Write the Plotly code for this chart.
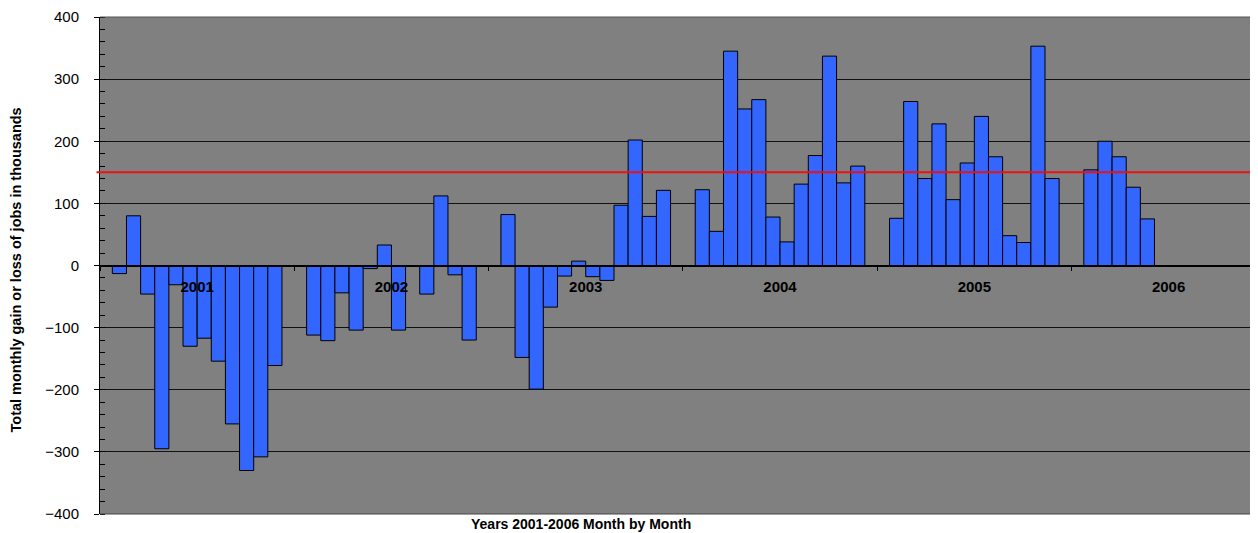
import plotly.graph_objects as go

years = ["2001", "2002", "2003", "2004", "2005", "2006"]
months = ["Jan", "Feb", "Mar", "Apr", "May", "Jun",
          "Jul", "Aug", "Sep", "Oct", "Nov", "Dec"]

jobs_2001 = [-13, 80, -46, -295, -31, -130, -117, -154, -255, -330, -308, -161]
jobs_2002 = [-112, -121, -44, -104, -5, 33, -104, None, -46, 112, -15, -120]
jobs_2003 = [82, -148, -199, -67, -17, 7, -18, -24, 97, 202, 79, 121]
jobs_2004 = [122, 55, 345, 252, 267, 78, 38, 131, 177, 337, 133, 160]
jobs_2005 = [76, 264, 140, 228, 106, 165, 240, 175, 48, 37, 353, 140]
jobs_2006 = [154, 200, 175, 126, 75, None, None, None, None, None, None, None]

target_level = 150

y_ticks = [-400, -300, -200, -100, 0, 100, 200, 300, 400]

by_year = [jobs_2001, jobs_2002, jobs_2003, jobs_2004, jobs_2005, jobs_2006]

fig = go.Figure()
for mi, m in enumerate(months):
    fig.add_trace(go.Bar(
        name=m,
        x=years,
        y=[yr[mi] for yr in by_year],
        marker=dict(color="#3366FF", line=dict(color="black", width=1)),
        showlegend=False,
    ))

fig.add_shape(type="line", xref="paper", yref="y", x0=-0.003, x1=1,
              y0=target_level, y1=target_level,
              line=dict(color="#EE1111", width=2), layer="above")

PLOT_W = 1158

fig.update_layout(
    width=1250, height=525,
    margin=dict(l=92, r=0, t=9, b=19),
    paper_bgcolor="white",
    plot_bgcolor="#808080",
    barmode="group",
    bargap=0.127,
    bargroupgap=0,
    font=dict(family="Liberation Sans, Arial", color="black"),
    xaxis=dict(
        type="category",
        range=[-0.5, 5.46],
        anchor="free", position=0.5,
        showgrid=False,
        showline=True, linecolor="black", linewidth=1,
        ticks="outside", tickson="boundaries", ticklen=4, tickcolor="black",
        ticklabelstandoff=7,
        tickfont=dict(size=15, family="Liberation Sans, Arial", weight="bold"),
    ),
    yaxis=dict(
        range=[-400, 400],
        tickvals=y_ticks,
        showgrid=True, gridcolor="#111111", gridwidth=1,
        zeroline=True, zerolinecolor="black", zerolinewidth=1,
        showline=True, linecolor="black", linewidth=1,
        ticks="outside", ticklen=5, tickcolor="black",
        ticklabelstandoff=12,
        tickfont=dict(size=15),
        minor=dict(dtick=20, ticks="inside", ticklen=5, tickcolor="black", showgrid=False),
    ),
    annotations=[
        dict(text="Years 2001-2006 Month by Month", xref="paper", yref="paper",
             x=(581 - 100) / PLOT_W, y=0, xanchor="center", yanchor="middle",
             yshift=-10, showarrow=False,
             font=dict(size=14, weight="bold")),
        dict(text="Total monthly gain or loss of jobs in thousands", xref="paper", yref="paper",
             x=0, y=0.5, xanchor="center", yanchor="middle", textangle=-90,
             xshift=-85, yshift=-5, showarrow=False,
             font=dict(size=14.5, weight="bold")),
    ],
)

fig.add_shape(type="line", xref="paper", yref="paper", x0=0, x1=1, y0=1, y1=1,
              line=dict(color="#555555", width=1))
fig.add_shape(type="line", xref="paper", yref="paper", x0=0, x1=1, y0=0, y1=0,
              line=dict(color="#444444", width=1))

fig.write_html("out.html")
